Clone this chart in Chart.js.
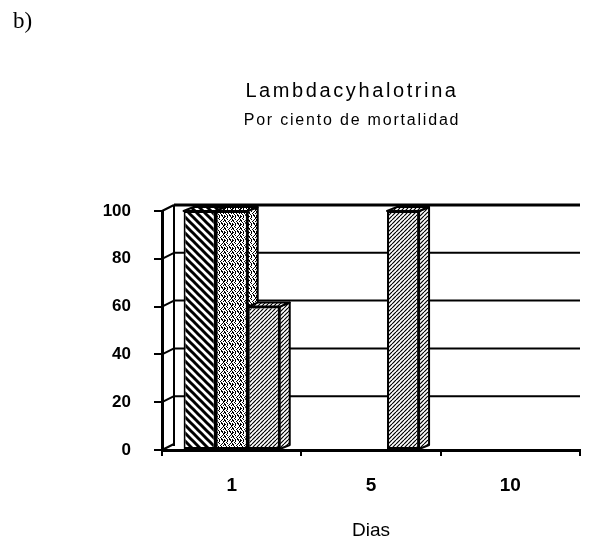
<!DOCTYPE html>
<html>
<head>
<meta charset="utf-8">
<script src="https://cdn.jsdelivr.net/npm/chart.js@4.4.1/dist/chart.umd.min.js"></script>
<style>
  html, body { margin: 0; padding: 0; background: #fff; }
  #wrap { position: relative; width: 592px; height: 548px; overflow: hidden; }
  #c { position: absolute; left: 0; top: 0; }
  .txt { position: absolute; color: #000; white-space: nowrap; }
</style>
</head>
<body>
<div id="wrap">
  <canvas id="c" width="592" height="548"></canvas>
  <div class="txt" style="left:13px;top:9px;font:23px 'Liberation Serif';line-height:23px;">b)</div>
  <div class="txt" id="t1" style="left:152px;width:400px;text-align:center;top:80px;font:20px 'Liberation Sans';line-height:20px;letter-spacing:2.6px;">Lambdacyhalotrina</div>
  <div class="txt" id="t2" style="left:152px;width:400px;text-align:center;top:112px;font:16px 'Liberation Sans';line-height:16px;letter-spacing:1.8px;">Por ciento de mortalidad</div>
</div>
<script>
// ---- data ----
const categories = ['1', '5', '10'];
const serie1 = [100, 0, 0];
const serie2 = [100, 0, 0];
const serie3 = [60, 100, 0];
const yMin = 0, yMax = 100, yStep = 20;
const xTitle = 'Dias';

// ---- patterns ----
function makeTile(size, draw) {
  const c = document.createElement('canvas');
  c.width = size; c.height = size;
  const g = c.getContext('2d');
  g.fillStyle = '#fff'; g.fillRect(0, 0, size, size);
  draw(g, size);
  return document.createElement('canvas').getContext('2d').createPattern(c, 'repeat');
}
const patBack = makeTile(8, (g, s) => {
  g.strokeStyle = '#000'; g.lineWidth = 3; g.lineCap = 'square';
  for (let k = -1; k <= 1; k++) {
    g.beginPath(); g.moveTo(k * s, 0); g.lineTo(k * s + s, s); g.stroke();
  }
});
const dotMap = [
  '11010010',
  '10010001',
  '00100001',
  '10010010',
  '11000100',
  '01001001',
  '00100100',
  '10010110'
];
const patDots = makeTile(8, (g) => {
  g.fillStyle = '#000';
  dotMap.forEach((row, y) => {
    for (let x = 0; x < row.length; x++) if (row[x] === '1') g.fillRect(x, y, 1, 1);
  });
});
const patFwd = makeTile(4, (g, s) => {
  g.strokeStyle = '#000'; g.lineWidth = 1.2;
  for (let k = -1; k <= 1; k++) {
    g.beginPath(); g.moveTo(k * s, s); g.lineTo(k * s + s, 0); g.stroke();
  }
});

// ---- 3D look plugin ----
const depth = { barDx: 10, barDy: 4, wallDx: 12, wallDy: 6 };
const threeD = {
  id: 'threeD',
  beforeDatasetsDraw(chart) {
    const ctx = chart.ctx;
    const ca = chart.chartArea;
    const ys = chart.scales.y;
    ctx.save();
    ctx.strokeStyle = '#000';
    // back wall
    const base = ys.getPixelForValue(yMin);
    const top = ys.getPixelForValue(yMax);
    ctx.lineWidth = 2;
    ctx.beginPath();
    ctx.moveTo(ca.left + depth.wallDx, top - depth.wallDy);
    ctx.lineTo(ca.left + depth.wallDx, base - depth.wallDy + 2);
    ctx.stroke();
    for (let v = yMin; v <= yMax; v += yStep) {
      const py = ys.getPixelForValue(v);
      ctx.lineWidth = v === yMax ? 3 : 2;
      if (v > yMin) {
        ctx.beginPath();
        ctx.moveTo(ca.left + depth.wallDx, py - depth.wallDy);
        ctx.lineTo(ca.right, py - depth.wallDy);
        ctx.stroke();
      }
      ctx.lineWidth = 2;
      ctx.beginPath();
      ctx.moveTo(ca.left, py);
      ctx.lineTo(ca.left + depth.wallDx, py - depth.wallDy);
      ctx.stroke();
    }
    // bar side / top faces
    const n = categories.length;
    ctx.lineWidth = 2;
    ctx.lineJoin = 'round';
    for (let i = 0; i < n; i++) {
      chart.data.datasets.forEach((ds, di) => {
        const el = chart.getDatasetMeta(di).data[i];
        if (!el || Math.abs(el.base - el.y) < 1) return;
        const w = el.width, l = el.x - w / 2, r = el.x + w / 2;
        const dx = depth.barDx, dy = depth.barDy;
        ctx.fillStyle = ds.backgroundColor;
        // side
        ctx.beginPath();
        ctx.moveTo(r, el.y); ctx.lineTo(r + dx, el.y - dy);
        ctx.lineTo(r + dx, el.base - dy); ctx.lineTo(r, el.base);
        ctx.closePath(); ctx.fill(); ctx.stroke();
        // top
        ctx.beginPath();
        ctx.moveTo(l, el.y); ctx.lineTo(l + dx, el.y - dy);
        ctx.lineTo(r + dx, el.y - dy); ctx.lineTo(r, el.y);
        ctx.closePath(); ctx.fill(); ctx.stroke();
      });
    }
    ctx.restore();
  }
};

const barCommon = {
  borderColor: '#000',
  borderWidth: 2,
  borderSkipped: false,
  categoryPercentage: 0.69,
  barPercentage: 1.0
};

new Chart(document.getElementById('c'), {
  type: 'bar',
  data: {
    labels: categories,
    datasets: [
      Object.assign({ label: 'serie1', data: serie1, backgroundColor: patBack }, barCommon),
      Object.assign({ label: 'serie2', data: serie2, backgroundColor: patDots }, barCommon),
      Object.assign({ label: 'serie3', data: serie3, backgroundColor: patFwd }, barCommon)
    ]
  },
  plugins: [threeD],
  options: {
    responsive: false,
    animation: false,
    devicePixelRatio: 1,
    layout: { padding: { top: 211, right: 12, left: 0, bottom: 0 } },
    plugins: {
      legend: { display: false },
      title: { display: false },
      tooltip: { enabled: false }
    },
    scales: {
      x: {
        type: 'category',
        grid: { display: true, drawOnChartArea: false, drawTicks: true, tickLength: 6, color: '#000', lineWidth: 2, offset: true },
        border: { display: true, color: '#000', width: 3 },
        ticks: { color: '#000', font: { family: 'Liberation Sans', size: 19, weight: 'bold' }, padding: 18, maxRotation: 0 },
        title: { display: true, text: xTitle, color: '#000', font: { family: 'Liberation Sans', size: 19 }, padding: { top: 0, bottom: 6 } },
        afterFit(s) { s.height = 98; }
      },
      y: {
        min: yMin, max: yMax,
        ticks: { stepSize: yStep, color: '#000', font: { family: 'Liberation Sans', size: 17, weight: 'bold' }, padding: 23 },
        grid: { drawOnChartArea: false, drawTicks: true, tickLength: 8, color: '#000', lineWidth: 2 },
        border: { display: true, color: '#000', width: 3 },
        afterFit(s) { s.width = 162; }
      }
    }
  }
});
</script>
</body>
</html>
